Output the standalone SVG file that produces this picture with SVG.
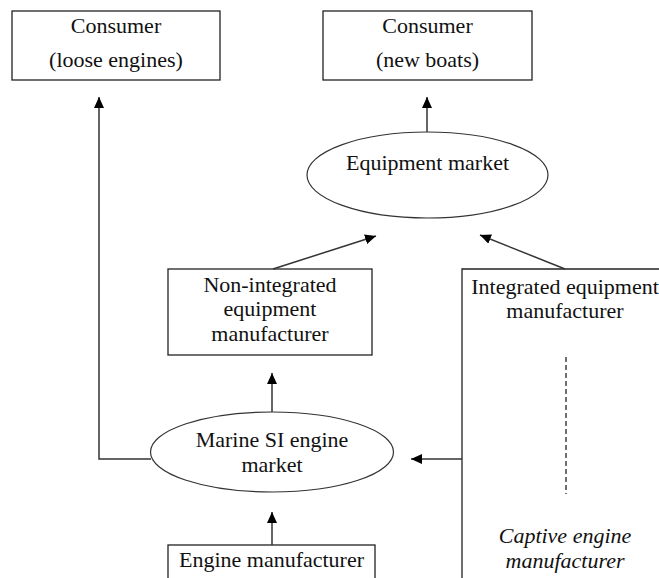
<svg xmlns="http://www.w3.org/2000/svg" width="659" height="578" viewBox="0 0 659 578">
  <style>
    .box { fill: #fff; stroke: #222; stroke-width: 1.3; }
    .oval { fill: #fff; stroke: #333; stroke-width: 1.2; }
    text { font-family: 'Liberation Serif', 'Times New Roman', serif; font-size: 22px; fill: #111; text-anchor: middle; }
    .it { font-style: italic; }
    .conn { fill: none; stroke: #333; stroke-width: 1.5; }
    .dash { fill: none; stroke: #222; stroke-width: 1.3; stroke-dasharray: 5 3; }
  </style>
  <defs>
    <marker id="arrow" markerUnits="userSpaceOnUse" markerWidth="11" markerHeight="10" refX="11" refY="5" orient="auto">
      <path d="M0,0 L11,5 L0,10 Z" fill="#000"/>
    </marker>
  </defs>
  <rect width="659" height="578" fill="#fff"/>

  <g id="consumer-loose">
    <rect class="box" x="12" y="11" width="208" height="69"/>
    <text x="116" y="33">Consumer</text>
    <text x="116" y="67">(loose engines)</text>
  </g>

  <g id="consumer-boats">
    <rect class="box" x="323" y="11" width="209" height="69"/>
    <text x="427.5" y="33">Consumer</text>
    <text x="427.5" y="67">(new boats)</text>
  </g>

  <g id="equipment-market">
    <ellipse class="oval" cx="427.5" cy="175" rx="120.5" ry="43"/>
    <text x="427.5" y="170">Equipment market</text>
  </g>

  <g id="non-integrated">
    <rect class="box" x="168" y="269" width="204" height="86"/>
    <text x="270" y="292">Non-integrated</text>
    <text x="270" y="316">equipment</text>
    <text x="270" y="341">manufacturer</text>
  </g>

  <g id="integrated">
    <!-- shared frame of the integrated and captive manufacturer; runs past the right and bottom edges -->
    <path class="box" d="M700,269 H462 V600"/>
    <text x="565" y="294">Integrated equipment</text>
    <text x="565" y="318">manufacturer</text>
    <line class="dash" x1="566" y1="357" x2="566" y2="494"/>
    <text class="it" x="565" y="543">Captive engine</text>
    <text class="it" x="565" y="568">manufacturer</text>
  </g>

  <g id="si-engine-market">
    <ellipse class="oval" cx="272" cy="452" rx="121.5" ry="40"/>
    <text x="272" y="447">Marine SI engine</text>
    <text x="272" y="472">market</text>
  </g>

  <g id="engine-manufacturer">
    <rect class="box" x="168" y="545" width="207" height="60"/>
    <text x="271.5" y="567">Engine manufacturer</text>
  </g>

  <g id="connectors">
    <polyline class="conn" points="151,459 99,459 99,97" marker-end="url(#arrow)"/>
    <line class="conn" x1="427" y1="132" x2="427" y2="97" marker-end="url(#arrow)"/>
    <line class="conn" x1="273" y1="269" x2="376" y2="236" marker-end="url(#arrow)"/>
    <line class="conn" x1="565" y1="269" x2="480" y2="235" marker-end="url(#arrow)"/>
    <line class="conn" x1="272" y1="412" x2="272" y2="373" marker-end="url(#arrow)"/>
    <line class="conn" x1="272" y1="545" x2="272" y2="512" marker-end="url(#arrow)"/>
    <line class="conn" x1="462" y1="459" x2="411" y2="459" marker-end="url(#arrow)"/>
  </g>
</svg>
